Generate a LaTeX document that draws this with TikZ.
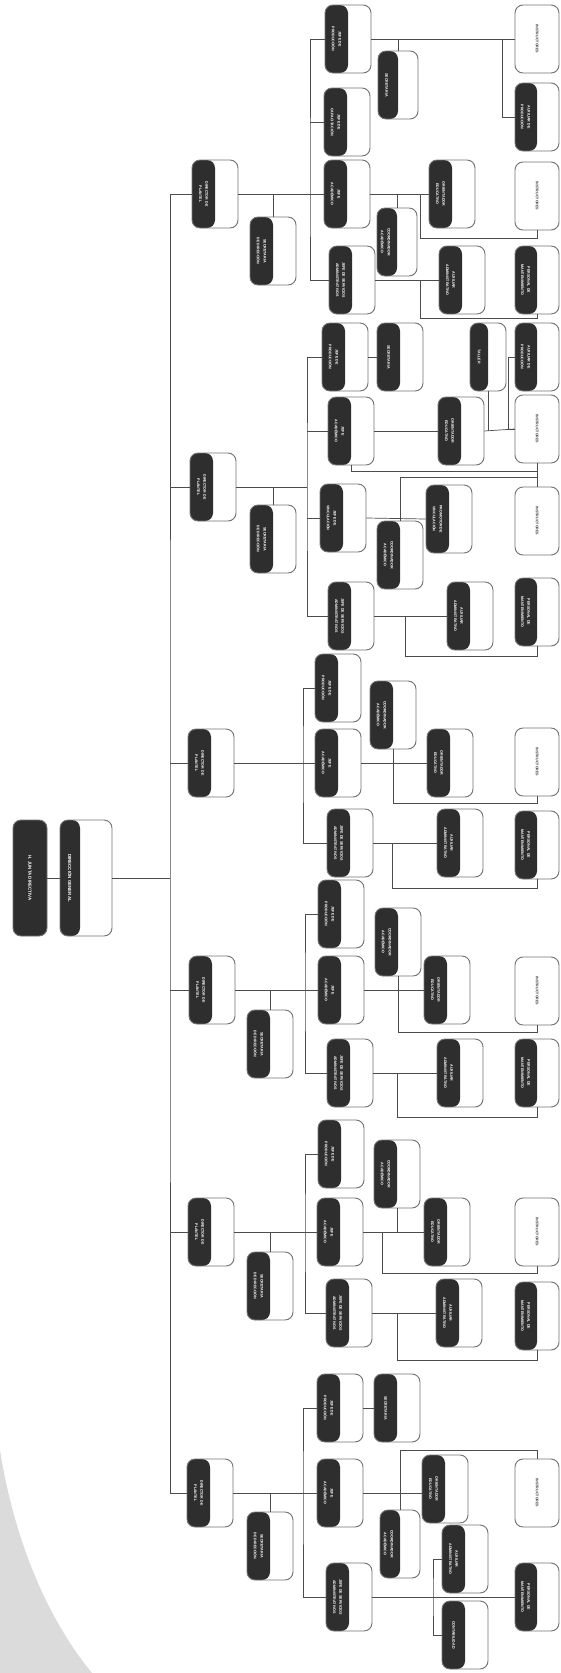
\documentclass[tikz,border=0pt]{standalone}
\usepackage{fontspec}
\setsansfont{Liberation Sans}

\newcommand{\dk}[1]{\rotatebox{-90}{\shortstack{#1}}\hbox to 6.9mm{}}
\newcommand{\wt}[1]{\rotatebox{-90}{\shortstack{#1}}}

\tikzset{
  boxbase/.style={draw=black!55, line width=0.8pt, rounded corners=2.4mm, fill=white,
    inner sep=0pt, minimum width=13.8mm, minimum height=20.4mm,
    font=\fontsize{3.1}{3.5}\selectfont\sffamily\bfseries},
  ubox/.style={boxbase, text=white,
    path picture={\fill[black!82] (path picture bounding box.south west) rectangle (path picture bounding box.north);}},
  narrow/.style={ubox, minimum width=12mm},
  sidebox/.style={ubox, minimum width=13.2mm},
  ibox/.style={boxbase, minimum width=13.2mm, text=black!75},
  topbox/.style={boxbase, fill=black!82, text=white, minimum width=10.2mm, minimum height=34.8mm,
    font=\fontsize{3.8}{4.2}\selectfont\sffamily\bfseries},
  dgbox/.style={boxbase, text=white, minimum width=15.6mm, minimum height=34.8mm,
    font=\fontsize{3.8}{4.2}\selectfont\sffamily\bfseries,
    path picture={\fill[black!82] (path picture bounding box.south west) rectangle ([xshift=6mm]path picture bounding box.north west);}},
  link/.style={draw=black!70, line width=0.6pt}
}

\begin{document}
\begin{tikzpicture}[x=0.3mm, y=-0.3mm]
  \useasboundingbox (0,0) rectangle (560,1673);

  % Page curl
  \fill[black!14] (0,1450) .. controls (15,1545) and (50,1622) .. (92,1673) -- (0,1673) -- cycle;

  % Board and general direction
  \node[topbox] (junta) at (30,878) {\rotatebox{-90}{H. JUNTA DIRECTIVA}};
  \node[dgbox] (dg) at (86,878) {\rotatebox{-90}{DIRECCIÓN GENERAL}\hbox to 9.6mm{}};
  \coordinate (tr) at (170,878);

  % Directors
  \node[ubox] (dir1) at (215,194) {\dk{DIRECTOR DE\\PLANTEL}};
  \node[ubox] (dir2) at (213,487) {\dk{DIRECTOR DE\\PLANTEL}};
  \node[ubox] (dir3) at (211,763) {\dk{DIRECTOR DE\\PLANTEL}};
  \node[ubox] (dir4) at (212,990) {\dk{DIRECTOR DE\\PLANTEL}};
  \node[ubox] (dir5) at (211,1232) {\dk{DIRECTOR DE\\PLANTEL}};
  \node[ubox] (dir6) at (210,1493) {\dk{DIRECTOR DE\\PLANTEL}};

  \draw[link] (junta) -- (dg);
  \draw[link] (dg) -- (tr);
  \draw[link] (dir1.west) -| (tr) |- (dir6.west);
  \foreach \i in {2,...,5}
    \draw[link] (dir\i.west) -- (dir\i.west -| tr);

  % Branch 1
  \node[ubox] (sec1) at (273,251) {\dk{SECRETARIA\\DE DIRECCIÓN}};
  \node[ubox] (p1a) at (348,39) {\dk{JEFE DE\\PRODUCCIÓN}};
  \node[ubox] (p1b) at (347,122) {\dk{JEFE DE\\CAPACITACIÓN}};
  \node[ubox] (p1c) at (347,194) {\dk{JEFE\\ACADÉMICO}};
  \node[ubox] (p1d) at (352,280) {\dk{JEFE DE SERVICIOS\\ADMINISTRATIVOS}};
  \node[narrow] (p1e) at (398,85) {\dk{SECRETARIA}};
  \node[ibox] (p1i1) at (537,39) {\wt{INSTRUCTORES}};
  \node[sidebox] (p1f) at (537,117) {\dk{AUXILIAR DE\\PRODUCCIÓN}};
  \node[ubox] (p1g) at (452,194) {\dk{ORIENTADOR\\EDUCATIVO}};
  \node[narrow] (p1h) at (397,242) {\dk{COORDINADOR\\ACADÉMICO}};
  \node[ibox] (p1i2) at (537,196) {\wt{INSTRUCTORES}};
  \node[ubox] (p1j) at (462,280) {\dk{AUXILIAR\\ADMINISTRATIVO}};
  \node[sidebox] (p1k) at (537,280) {\dk{PERSONAL DE\\MANTENIMIENTO}};

  \coordinate (t1) at (310,194);
  \coordinate (j1) at (420,238);
  \coordinate (j2) at (420,318);
  \draw[link] (dir1.east) -- (p1c.west);
  \draw[link] (p1a.west) -| (t1) |- (p1d.west);
  \draw[link] (p1b.west) -- (p1b.west -| t1);
  \draw[link] (sec1.north) -- (sec1.north |- dir1.east);
  \draw[link] (p1a.east) -- (p1i1.west);
  \draw[link] (p1e.north) -- (p1e.north |- p1a.east);
  \draw[link] (p1f.west) -- ++(-12,0) |- (p1i1.west);
  \draw[link] (p1c.east) -- (p1g.west);
  \draw[link] (p1h.north) -- (p1h.north |- p1c.east);
  \draw[link] (p1i2.south) |- (j1) |- (p1g.west);
  \draw[link] (p1d.east) -- (p1j.west);
  \draw[link] (p1k.south) |- (j2) |- (p1j.west);

  % Branch 2
  \node[ubox] (sec2) at (273,539) {\dk{SECRETARIA\\DE DIRECCIÓN}};
  \node[ubox] (p2a) at (345,357) {\dk{JEFE DE\\PRODUCCIÓN}};
  \node[ubox] (p2b) at (351,431) {\dk{JEFE\\ACADÉMICO}};
  \node[ubox] (p2c) at (343,518) {\dk{JEFE DE\\VINCULACIÓN}};
  \node[ubox] (p2d) at (351,616) {\dk{JEFE DE SERVICIOS\\ADMINISTRATIVOS}};
  \node[ubox] (p2l) at (400,357) {\dk{SECRETARIA}};
  \node[ubox, minimum width=10.8mm] (p2m) at (488,357) {\rotatebox{-90}{TALLER}\hbox to 5.4mm{}};
  \node[sidebox] (p2n) at (537,357) {\dk{AUXILIAR DE\\PRODUCCIÓN}};
  \node[ubox] (p2o) at (461,431) {\dk{ORIENTADOR\\EDUCATIVO}};
  \node[ibox] (p2i1) at (537,429) {\wt{INSTRUCTORES}};
  \node[ubox] (p2p) at (400,555) {\dk{COORDINADOR\\ACADÉMICO}};
  \node[ubox] (p2q) at (449,519) {\dk{PROMOTOR DE\\VINCULACIÓN}};
  \node[ibox] (p2i2) at (537,521) {\wt{INSTRUCTORES}};
  \node[ubox] (p2r) at (470,616) {\dk{AUXILIAR\\ADMINISTRATIVO}};
  \node[sidebox] (p2s) at (537,612) {\dk{PERSONAL DE\\MANTENIMIENTO}};

  \coordinate (t2) at (307,487);
  \coordinate (j3) at (537,471);
  \coordinate (j4) at (537,477);
  \coordinate (j5) at (405,656);
  \draw[link] (dir2.east) -- (t2);
  \draw[link] (p2a.west) -| (t2) |- (p2d.west);
  \draw[link] (p2b.west) -- (p2b.west -| t2);
  \draw[link] (p2c.west) -- (p2c.west -| t2);
  \draw[link] (sec2.north) -- (sec2.north |- dir2.east);
  \draw[link] (p2a.east) -- (p2l.west);
  \draw[link] (p2b.east) -- (p2o.west);
  \draw[link] (p2o.east) -- (p2i1.west);
  \draw[link] (p2m.south) -- (p2m.south |- p2o.east);
  \draw[link] (p2n.west) -- ++(-6,0) |- (p2i1.west);
  \draw[link] (p2i1.south) -- (p2i2.north);
  \draw[link] (p2b.south) |- (j3);
  \draw[link] (p2p.north) |- (j4);
  \draw[link] (p2c.east) -- (p2q.west);
  \draw[link] (p2d.east) -- (p2r.west);
  \draw[link] (p2s.south) |- (j5) |- (p2r.west);

  % Branch 3
  \node[ubox] (p3a) at (338,688) {\dk{JEFE DE\\PRODUCCIÓN}};
  \node[ubox] (p3b) at (338,763) {\dk{JEFE\\ACADÉMICO}};
  \node[ubox] (p3c) at (350,843) {\dk{JEFE DE SERVICIOS\\ADMINISTRATIVOS}};
  \node[ubox] (p3t) at (393,715) {\dk{COORDINADOR\\ACADÉMICO}};
  \node[ibox] (p3i) at (537,762) {\wt{INSTRUCTORES}};
  \node[ubox] (p3u) at (450,763) {\dk{ORIENTADOR\\EDUCATIVO}};
  \node[ubox] (p3v) at (460,843) {\dk{AUXILIAR\\ADMINISTRATIVO}};
  \node[sidebox] (p3w) at (537,845) {\dk{PERSONAL DE\\MANTENIMIENTO}};

  \coordinate (t3) at (303,763);
  \coordinate (j6) at (537,803);
  \coordinate (j7) at (392,888);
  \draw[link] (dir3.east) -- (p3b.west);
  \draw[link] (p3a.west) -| (t3) |- (p3c.west);
  \draw[link] (p3t.south) |- (j6) -- (p3i.south);
  \draw[link] (p3b.east) -- (p3u.west);
  \draw[link] (p3c.east) -- (p3v.west);
  \draw[link] (p3w.south) |- (j7) |- (p3v.west);

  % Branch 4
  \node[ubox] (sec4) at (270,1044) {\dk{SECRETARIA\\DE DIRECCIÓN}};
  \node[ubox] (p4a) at (341,914) {\dk{JEFE DE\\PRODUCCIÓN}};
  \node[ubox] (p4b) at (341,990) {\dk{JEFE\\ACADÉMICO}};
  \node[ubox] (p4c) at (350,1073) {\dk{JEFE DE SERVICIOS\\ADMINISTRATIVOS}};
  \node[ubox] (p4t) at (398,942) {\dk{COORDINADOR\\ACADÉMICO}};
  \node[ibox] (p4i) at (537,991) {\wt{INSTRUCTORES}};
  \node[ubox] (p4u) at (447,990) {\dk{ORIENTADOR\\EDUCATIVO}};
  \node[ubox] (p4v) at (460,1073) {\dk{AUXILIAR\\ADMINISTRATIVO}};
  \node[sidebox] (p4w) at (537,1073) {\dk{PERSONAL DE\\MANTENIMIENTO}};

  \coordinate (t4) at (305,990);
  \coordinate (j8) at (537,1032);
  \coordinate (j9) at (397,1117);
  \draw[link] (dir4.east) -- (p4b.west);
  \draw[link] (p4a.west) -| (t4) |- (p4c.west);
  \draw[link] (sec4.north) -- (sec4.north |- dir4.east);
  \draw[link] (p4t.south) |- (j8) -- (p4i.south);
  \draw[link] (p4b.east) -- (p4u.west);
  \draw[link] (p4c.east) -- (p4v.west);
  \draw[link] (p4w.south) |- (j9) |- (p4v.west);

  % Branch 5
  \node[ubox] (sec5) at (270,1286) {\dk{SECRETARIA\\DE DIRECCIÓN}};
  \node[ubox] (p5a) at (341,1154) {\dk{JEFE DE\\PRODUCCIÓN}};
  \node[ubox] (p5t) at (397,1174) {\dk{COORDINADOR\\ACADÉMICO}};
  \node[ubox] (p5b) at (340,1232) {\dk{JEFE\\ACADÉMICO}};
  \node[ubox] (p5u) at (447,1232) {\dk{ORIENTADOR\\EDUCATIVO}};
  \node[ibox] (p5i) at (537,1232) {\wt{INSTRUCTORES}};
  \node[ubox] (p5c) at (349,1313) {\dk{JEFE DE SERVICIOS\\ADMINISTRATIVOS}};
  \node[ubox] (p5v) at (459,1313) {\dk{AUXILIAR\\ADMINISTRATIVO}};
  \node[sidebox] (p5w) at (537,1316) {\dk{PERSONAL DE\\MANTENIMIENTO}};

  \coordinate (t5) at (305,1232);
  \coordinate (j10) at (382,1273);
  \coordinate (j11) at (397,1360);
  \draw[link] (dir5.east) -- (p5b.west);
  \draw[link] (p5a.west) -| (t5) |- (p5c.west);
  \draw[link] (sec5.north) -- (sec5.north |- dir5.east);
  \draw[link] (p5t.south) -- (p5t.south |- p5b.east);
  \draw[link] (p5b.east) -- (p5u.west);
  \draw[link] (p5i.south) |- (j10) |- (p5u.west);
  \draw[link] (p5c.east) -- (p5v.west);
  \draw[link] (p5w.south) |- (j11) |- (p5v.west);

  % Branch 6
  \node[ubox] (sec6) at (270,1546) {\dk{SECRETARIA\\DE DIRECCIÓN}};
  \node[ubox] (p6a) at (340,1408) {\dk{JEFE DE\\PRODUCCIÓN}};
  \node[ubox] (p6x) at (397,1408) {\dk{SECRETARIA}};
  \node[ubox] (p6b) at (340,1493) {\dk{JEFE\\ACADÉMICO}};
  \node[ubox] (p6y) at (445,1489) {\dk{ORIENTADOR\\EDUCATIVO}};
  \node[ibox] (p6i) at (537,1493) {\wt{INSTRUCTORES}};
  \node[narrow] (p6z) at (400,1544) {\dk{COORDINADOR\\ACADÉMICO}};
  \node[ubox] (p6aa) at (465,1559) {\dk{AUXILIAR\\ADMINISTRATIVO}};
  \node[ubox] (p6ab) at (465,1635) {\dk{CONTABILIDAD}};
  \node[ubox] (p6c) at (349,1597) {\dk{JEFE DE SERVICIOS\\ADMINISTRATIVOS}};
  \node[sidebox] (p6ac) at (537,1597) {\dk{PERSONAL DE\\MANTENIMIENTO}};

  \coordinate (t6) at (303,1493);
  \coordinate (j12) at (400,1450);
  \coordinate (j13) at (433,1597);
  \draw[link] (dir6.east) -- (p6b.west);
  \draw[link] (p6a.west) -| (t6) |- (p6c.west);
  \draw[link] (sec6.north) -- (sec6.north |- dir6.east);
  \draw[link] (p6a.east) -- (p6x.west);
  \draw[link] (p6b.east) -- (p6b.east -| p6y.west);
  \draw[link] (p6z.north) -- (j12) -| (p6i.north);
  \draw[link] (p6c.east) -- (p6ac.west);
  \draw[link] (p6aa.west) -| (j13) |- (p6ab.west);
\end{tikzpicture}
\end{document}
